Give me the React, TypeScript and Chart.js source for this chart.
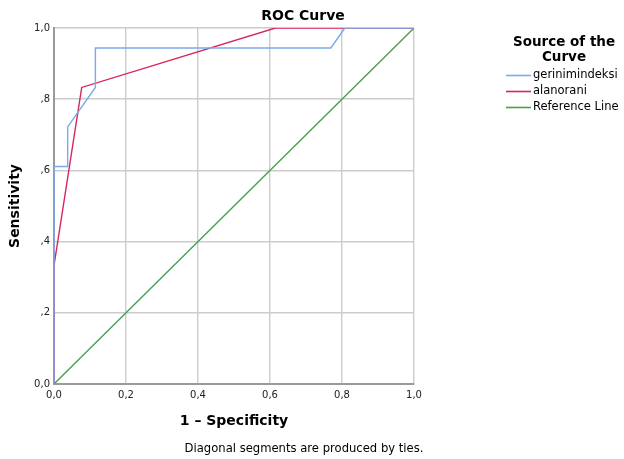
import React, { useEffect, useRef } from "react";
import { Chart, registerables } from "chart.js";

Chart.register(...registerables);

const seriesNames = ["gerinimindeksi", "alanorani", "Reference Line"];
const gerinX = [0, 0, 0.038, 0.038, 0.115, 0.115, 0.769, 0.808, 1];
const gerinY = [0, 0.611, 0.611, 0.722, 0.833, 0.944, 0.944, 1, 1];
const alanX = [0, 0, 0.077, 0.615, 1];
const alanY = [0, 0.333, 0.833, 1, 1];
const refX = [0, 1];
const refY = [0, 1];
const tickValues = [0, 0.2, 0.4, 0.6, 0.8, 1.0];
const xTickLabels = ["0,0", "0,2", "0,4", "0,6", "0,8", "1,0"];
const yTickLabels = ["0,0", ",2", ",4", ",6", ",8", "1,0"];
const colors = ["#7aa9ee", "#d8245a", "#4aa04a"];

const FONT = "'DejaVu Sans', sans-serif";

const toPoints = (xs: number[], ys: number[]) => xs.map((x, i) => ({ x, y: ys[i] }));

const textPlugin = {
  id: "texts",
  afterDraw(chart: any) {
    const ctx = chart.ctx;
    const area = chart.chartArea;
    ctx.save();
    ctx.fillStyle = "#000";
    ctx.font = `bold 14px ${FONT}`;
    ctx.textAlign = "center";
    ctx.textBaseline = "alphabetic";
    ctx.fillText("ROC Curve", 303, 20);
    ctx.fillText("1 \u2013 Specificity", (area.left + area.right) / 2, 425);
    ctx.save();
    ctx.translate(19, (area.top + area.bottom) / 2);
    ctx.rotate(-Math.PI / 2);
    ctx.fillText("Sensitivity", 0, 0);
    ctx.restore();
    ctx.font = `11.6px ${FONT}`;
    ctx.fillText("Diagonal segments are produced by ties.", 304, 452);
    ctx.font = `bold 13.5px ${FONT}`;
    ctx.fillText("Source of the", 564, 46);
    ctx.fillText("Curve", 564, 61);
    ctx.font = `11.5px ${FONT}`;
    ctx.textAlign = "left";
    ctx.textBaseline = "middle";
    seriesNames.forEach((name, i) => {
      const y = 75 + i * 16;
      ctx.strokeStyle = colors[i];
      ctx.lineWidth = 1.6;
      ctx.beginPath();
      ctx.moveTo(506, y + 0.5);
      ctx.lineTo(531, y + 0.5);
      ctx.stroke();
      ctx.fillStyle = "#000";
      ctx.fillText(name, 533, y);
    });
    ctx.restore();
  },
};

export default function App() {
  const ref = useRef<HTMLCanvasElement>(null);
  useEffect(() => {
    document.body.style.margin = "0";
    const chart = new Chart(ref.current!, {
      type: "scatter",
      data: {
        datasets: [
          { label: seriesNames[0], data: toPoints(gerinX, gerinY), borderColor: colors[0] },
          { label: seriesNames[1], data: toPoints(alanX, alanY), borderColor: colors[1] },
          { label: seriesNames[2], data: toPoints(refX, refY), borderColor: colors[2] },
        ].map((d) => ({ ...d, showLine: true, borderWidth: 1.4, pointRadius: 0, pointHoverRadius: 0, tension: 0, fill: false })),
      },
      options: {
        animation: false,
        responsive: false,
        events: [],
        layout: { padding: { top: 28, right: 210, bottom: 0, left: 0 } },
        plugins: { legend: { display: false }, title: { display: false }, tooltip: { enabled: false } },
        scales: {
          x: {
            type: "linear",
            min: 0,
            max: 1,
            afterFit: (s: any) => { s.height = 75; },
            afterBuildTicks: (s: any) => { s.ticks = tickValues.map((v) => ({ value: v })); },
            grid: { color: "#cccccc", drawTicks: false, lineWidth: 1.4 },
            border: { color: "#9a9a9a", width: 2 },
            ticks: {
              padding: 5,
              color: "#222",
              font: { family: FONT, size: 10 },
              maxRotation: 0,
              callback: (v: any) => xTickLabels[tickValues.findIndex((t) => Math.abs(t - v) < 1e-6)] ?? "",
            },
          },
          y: {
            type: "linear",
            min: 0,
            max: 1,
            afterFit: (s: any) => { s.width = 54; },
            afterBuildTicks: (s: any) => { s.ticks = tickValues.map((v) => ({ value: v })); },
            grid: { color: "#cccccc", drawTicks: false, lineWidth: 1.4 },
            border: { color: "#9a9a9a", width: 2 },
            ticks: {
              padding: 4,
              color: "#222",
              font: { family: FONT, size: 10 },
              callback: (v: any) => yTickLabels[tickValues.findIndex((t) => Math.abs(t - v) < 1e-6)] ?? "",
            },
          },
        },
      },
      plugins: [textPlugin],
    });
    return () => chart.destroy();
  }, []);
  return <canvas ref={ref} width={624} height={459} style={{ display: "block" }} />;
}
